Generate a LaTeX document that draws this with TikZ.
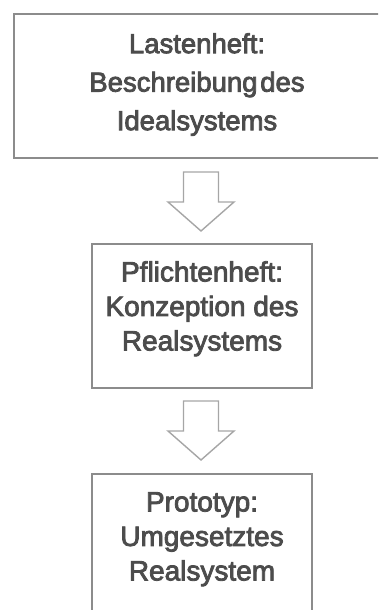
\documentclass[tikz,border=0pt]{standalone}
\usepackage{fontspec}
\setmainfont{Liberation Sans}
% slightly heavier glyphs: fill and stroke the text outlines
\newcommand\heavytext[1]{\special{pdf:literal direct 2 Tr 0.8 w}#1\special{pdf:literal direct 0 Tr}}
\begin{document}
\begin{tikzpicture}[x=1pt,y=-1pt,
  box/.style={draw=black!45, line width=2pt, fill=white, inner sep=0pt, rectangle},
  txt/.style={text=black!70, font=\fontsize{28}{34.5}\selectfont, align=center, inner sep=0pt, anchor=north},
  arrowline/.style={draw=black!35, line width=1.4pt, fill=white, line join=miter}]
\useasboundingbox (0,0) rectangle (378,610);
\clip (0,0) rectangle (378,610);

% document boxes
\node[box, minimum width=366pt, minimum height=144pt] (lasten) at (197,86) {};
\node[box, minimum width=220pt, minimum height=144pt] (pflichten) at (202,316) {};
\node[box, minimum width=220pt, minimum height=144pt] (proto) at (202,546) {};

% box texts
\node[txt, font=\fontsize{27.5}{38.5}\selectfont] (tl) at (197,33) {\heavytext{Lastenheft:\\Beschreibung\hspace{0.1em}des\\Idealsystems}};
\node[txt] (tp) at (202,261) {\heavytext{Pflichtenheft:\\Konzeption des\\Realsystems}};
\node[txt] (tr) at (202,492) {\heavytext{Prototyp:\\Umgesetztes\\Realsystem}};

% hollow block arrows between the boxes
\newcommand\hollowdown[1]{%
  \draw[arrowline] (#1) ++(-17.5,0) -- ++(35,0) -- ++(0,30) -- ++(15.5,0)
    -- ++(-33,29) -- ++(-33,-29) -- ++(15.5,0) -- cycle;}
\coordinate (s1) at (201,172);
\coordinate (s2) at (201,401);
\hollowdown{s1}
\hollowdown{s2}
\end{tikzpicture}
\end{document}
